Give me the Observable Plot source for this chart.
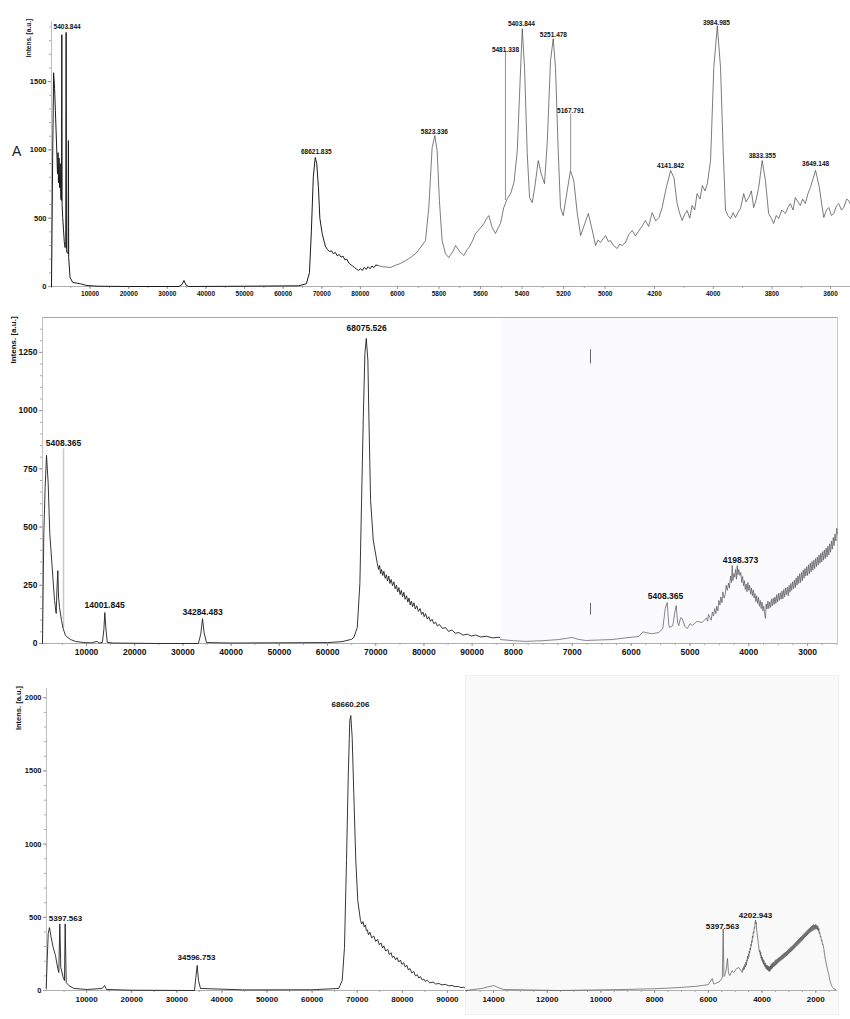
<!DOCTYPE html>
<html><head><meta charset="utf-8">
<script src="https://cdn.jsdelivr.net/npm/d3@7"></script>
<script src="https://cdn.jsdelivr.net/npm/@observablehq/plot@0.6"></script>
<style>
body{margin:0;background:#fff;width:850px;height:1019px;position:relative;overflow:hidden;font-family:"Liberation Sans",Arial,Helvetica,sans-serif;}
.ylab{position:absolute;white-space:nowrap;transform:translate(-50%,-50%) rotate(-90deg);color:#111;font-weight:bold;}
</style></head><body>
<div style="position:absolute;left:465px;top:675px;width:372px;height:338px;background:#f9f9f9;border:1px solid #f0f0f0;"></div>
<div style="position:absolute;left:12px;top:143px;font-size:14px;color:#222;">A</div>
<div class="ylab" style="left:28px;top:38px;font-size:6.5px;">Intens. [a.u.]</div>
<div class="ylab" style="left:13px;top:340px;font-size:8px;">Intens. [a.u.]</div>
<div class="ylab" style="left:18px;top:708px;font-size:7.5px;">Intens. [a.u.]</div>
<script>
// ---------- Panel A ----------
const aSeg1 = [[0,0],[100,300],[300,950],[550,1565],[800,1450],[1000,1290],[1300,1050],[1550,826],[1700,980],[1800,760],[1950,940],[2100,724],[2250,900],[2400,640],[2600,630],[2670,1843],[2740,600],[2900,505],[3100,420],[3300,330],[3500,285],[3700,300],[3785,1860],[3870,270],[4000,250],[4300,240],[4380,1068],[4450,212],[4600,150],[4800,66],[5500,30],[7500,20],[9200,7],[12000,2],[20000,0],[33000,0],[33800,15],[34300,44],[34800,12],[35500,0],[50000,2],[64000,5],[66000,20],[66800,100],[67300,400],[67800,800],[68300,945],[68700,900],[69130,724],[69500,500],[70100,387],[70600,330],[71000,290],[71500,270],[72000,255],[72500,262],[73000,240],[73500,250],[74000,225],[74500,235],[75000,215],[75500,222],[76000,195],[76500,200],[77000,172],[77500,160],[78000,150],[78500,138],[79000,128],[79500,117],[80000,130],[80500,118],[81000,140],[81500,125],[82000,145],[82500,130],[83000,150],[83500,138],[84000,158],[84430,154]];
const aSeg2 = [[6096,154],[6070,145],[6034,139],[6010,155],[5986,168],[5960,190],[5937,212],[5910,245],[5889,285],[5865,336],[5849,578],[5833,1017],[5820,1105],[5809,995],[5798,629],[5785,336],[5769,241],[5753,212],[5740,240],[5730,265],[5720,300],[5700,255],[5680,227],[5665,270],[5656,285],[5640,330],[5624,388],[5605,420],[5584,461],[5570,500],[5560,519],[5544,432],[5528,388],[5515,430],[5504,461],[5488,578],[5471,644],[5455,680],[5439,761],[5423,995],[5410,1485],[5399,1887],[5388,1602],[5375,973],[5364,651],[5351,614],[5339,724],[5322,922],[5308,827],[5292,753],[5279,1046],[5263,1653],[5250,1814],[5239,1602],[5226,995],[5215,578],[5202,519],[5188,651],[5167,849],[5151,775],[5134,534],[5118,373],[5098,461],[5081,534],[5065,432],[5046,300],[5035,340],[5022,322],[5010,350],[4998,373],[4985,330],[4974,336],[4960,300],[4942,278],[4930,310],[4918,300],[4902,322]];
const aSeg3 = [[4299,322],[4288,380],[4276,410],[4265,370],[4253,410],[4240,450],[4231,483],[4220,440],[4208,541],[4196,480],[4185,505],[4174,578],[4160,724],[4145,849],[4134,797],[4123,607],[4115,540],[4106,483],[4097,530],[4089,556],[4080,500],[4072,593],[4063,560],[4055,680],[4045,640],[4037,739],[4028,700],[4020,753],[4009,922],[3998,1602],[3986,1909],[3975,1602],[3966,995],[3958,556],[3950,520],[3941,497],[3932,540],[3924,505],[3915,545],[3907,571],[3896,680],[3888,620],[3879,651],[3870,700],[3862,578],[3853,640],[3845,724],[3833,922],[3822,775],[3811,534],[3802,500],[3794,461],[3785,520],[3777,497],[3766,560],[3754,534],[3745,580],[3737,607],[3728,560],[3720,651],[3711,620],[3703,593],[3695,640],[3686,607],[3677,680],[3669,724],[3651,849],[3638,724],[3630,600],[3623,505],[3614,560],[3606,578],[3597,520],[3589,534],[3580,590],[3572,607],[3563,560],[3555,578],[3545,640],[3538,629],[3532,600]];
const aLabels1 = [[4045,1902,"5403.844"],[68590,987,"68621.835"]];
const aLabels2 = [[5822,1134,"5823.336"],[5480,1734,"5481.338"],[5403,1924,"5403.844"],[5249,1843,"5251.478"],[5166,1287,"5167.791"]];
const aLabels3 = [[4145,885,"4141.842"],[3989,1931,"3984.985"],[3833,958,"3833.355"],[3651,900,"3649.148"]];
const aMarkers2 = [[5480,629,1712],[5166,849,1262]];
const aTicks1 = [10000,20000,30000,40000,50000,60000,70000,80000];
const aTicks2 = [6000,5800,5600,5400,5200,5000];
const aTicks3 = [4200,4000,3800,3600];
const aYTicks = [0,500,1000,1500];

// ---------- Panel B ----------
const bSeg1 = [[870,0],[1140,472],[1420,670],[1700,808],[2050,687],[2380,472],[2880,326],[3360,185],[3710,129],[3880,240],[4050,313],[4200,200],[4400,155],[4810,99],[5160,64],[5640,34],[6680,17],[7720,9],[9450,4],[11000,3],[12200,9],[12600,2],[13300,5],[13600,60],[13800,133],[14000,70],[14300,5],[15500,2],[25000,0],[33200,0],[33700,40],[34070,107],[34400,45],[34900,4],[40000,2],[50000,3],[60000,4],[63000,8],[65000,18],[65460,26],[66170,69],[66710,258],[67060,614],[67420,971],[67750,1246],[68040,1310],[68370,1216],[68580,971],[68930,614],[69490,442],[70320,344],[70600,318],[70800,335],[71000,300],[71200,318],[71450,292],[71690,310],[71950,280],[72200,295],[72450,268],[72700,290],[72950,258],[73200,275],[73480,248],[73760,265],[74030,235],[74300,250],[74550,222],[74800,240],[75050,210],[75300,228],[75570,200],[75840,220],[76100,190],[76400,205],[76650,178],[76900,195],[77150,165],[77400,182],[77650,158],[77920,175],[78200,148],[78500,162],[78850,138],[79200,150],[79500,125],[79800,135],[80050,115],[80340,128],[80700,105],[81000,115],[81350,95],[81700,104],[82050,85],[82420,92],[82800,75],[83200,82],[83800,65],[84490,68],[85100,52],[85800,58],[86500,44],[87250,47],[88100,36],[89000,40],[89800,32],[90710,36],[91800,28],[93000,31],[94200,24],[95550,27],[95880,24]];
const bSeg2 = [[8221,17],[8000,12],[7796,9],[7500,12],[7230,17],[7100,22],[7002,26],[6900,18],[6776,13],[6550,15],[6322,17],[6100,24],[5870,30],[5800,50],[5756,47],[5650,42],[5530,47],[5462,64],[5420,150],[5387,176],[5360,80],[5348,69],[5292,77],[5260,130],[5234,163],[5210,90],[5190,77],[5160,110],[5132,107],[5090,75],[5047,64],[5000,85],[4962,77],[4880,95],[4792,90],[4720,110],[4700,96],[4685,125],[4660,112],[4640,100],[4620,135],[4600,118],[4580,150],[4560,128],[4545,160],[4525,140],[4510,185],[4490,165],[4475,200],[4455,175],[4440,222],[4420,195],[4400,210],[4385,250],[4365,228],[4345,260],[4330,238],[4310,290],[4295,262],[4282,335],[4270,270],[4255,300],[4240,285],[4225,318],[4210,276],[4197,335],[4185,295],[4170,318],[4150,292],[4135,305],[4120,262],[4105,288],[4090,248],[4075,270],[4060,232],[4045,255],[4030,222],[4015,262],[4000,228],[3985,250],[3970,212],[3955,238],[3940,205],[3925,230],[3910,195],[3895,215],[3880,180],[3865,205],[3850,172],[3835,198],[3820,160],[3805,185],[3790,150],[3775,178],[3760,140],[3745,160],[3730,125],[3716,108],[3705,170],[3690,148],[3675,182],[3660,150],[3645,178],[3630,155],[3615,190],[3600,162],[3585,195],[3570,168],[3555,200],[3540,172],[3525,210],[3510,178],[3495,215],[3480,185],[3465,218],[3450,190],[3435,225],[3420,192],[3405,232],[3390,200],[3375,238],[3360,210],[3345,242],[3330,205],[3315,250],[3300,220],[3285,258],[3270,228],[3255,265],[3240,235],[3225,272],[3210,240],[3195,282],[3180,250],[3165,290],[3150,258],[3135,300],[3120,262],[3105,305],[3090,270],[3075,315],[3060,280],[3045,322],[3030,290],[3015,330],[3000,292],[2985,338],[2970,300],[2955,345],[2940,308],[2925,352],[2910,315],[2895,358],[2880,322],[2865,365],[2850,330],[2835,372],[2820,338],[2805,380],[2790,345],[2775,388],[2760,350],[2745,395],[2730,358],[2715,402],[2700,365],[2685,410],[2670,372],[2655,418],[2640,380],[2625,428],[2610,392],[2595,440],[2580,405],[2565,455],[2550,420],[2535,470],[2520,440],[2505,495],[2495,470]];
const bLabels1 = [[5230,859,"5408.365"],[13740,163,"14001.845"],[34070,133,"34284.483"],[68100,1353,"68075.526"]];
const bLabels2 = [[5416,202,"5408.365"],[4141,357,"4198.373"]];
const bMarkers1 = [[5230,64,836]];
const bMarkers2 = [[6691,1200,1262],[6691,122,172]];
const bTicks1 = [10000,20000,30000,40000,50000,60000,70000,80000,90000];
const bTicks2 = [8000,7000,6000,5000,4000,3000];
const bYTicks = [0,250,500,750,1000,1250];

// ---------- Panel C ----------
const cSeg1 = [[1040,14],[1260,205],[1490,389],[1770,430],[2150,362],[2590,294],[3100,239],[3610,150],[3840,123],[4060,455],[4280,157],[4810,89],[5100,68],[5250,455],[5480,55],[6050,34],[7160,14],[10130,7],[13460,14],[13970,34],[14410,7],[20000,2],[33920,0],[34210,89],[34520,171],[34810,68],[35250,14],[45000,4],[60000,5],[65910,14],[66670,68],[67170,294],[67620,888],[68000,1455],[68350,1844],[68570,1878],[68880,1728],[69240,1345],[69680,888],[70120,615],[70720,478],[71000,455],[71300,470],[71550,435],[71830,448],[72000,410],[72210,415],[72500,380],[72800,398],[73200,360],[73670,372],[74100,335],[74500,350],[74900,312],[75300,325],[75600,290],[75890,305],[76300,270],[76800,280],[77100,245],[77500,258],[77800,225],[78100,235],[78500,210],[78800,225],[79200,195],[79590,208],[79900,178],[80300,190],[80650,160],[81000,172],[81350,140],[81700,150],[82100,120],[82540,130],[82900,100],[83300,108],[83650,85],[84000,95],[84400,72],[84760,78],[85100,62],[85500,70],[86100,52],[86800,58],[87400,44],[88080,48],[88800,38],[89500,42],[90300,32],[91050,35],[91700,26],[92400,28],[93000,20],[93620,22],[93780,19]];
const cSeg2 = [[15043,0],[14421,14],[14200,25],[13989,34],[13800,18],[13616,7],[11568,0],[9084,7],[8000,12],[7099,20],[6500,28],[6228,34],[6000,40],[5856,82],[5800,45],[5733,48],[5600,60],[5547,68],[5480,90],[5446,420],[5420,95],[5387,102],[5330,150],[5286,219],[5250,120],[5200,102],[5120,135],[5051,123],[4950,150],[4865,157],[4800,140],[4738,123],[4720,150],[4700,138],[4680,165],[4660,145],[4640,178],[4620,160],[4600,195],[4580,172],[4565,210],[4552,200],[4535,235],[4520,215],[4505,250],[4490,232],[4475,270],[4460,255],[4445,290],[4429,278],[4415,315],[4400,305],[4385,340],[4370,330],[4355,372],[4340,360],[4325,400],[4306,392],[4290,430],[4275,425],[4260,462],[4243,482],[4230,455],[4215,465],[4200,410],[4185,398],[4170,365],[4155,350],[4140,320],[4125,305],[4110,280],[4095,262],[4080,275],[4065,240],[4050,262],[4035,220],[4020,240],[4005,205],[3990,228],[3975,192],[3960,212],[3945,180],[3930,205],[3915,170],[3900,190],[3885,160],[3870,185],[3855,150],[3840,175],[3825,145],[3810,172],[3795,140],[3780,168],[3765,135],[3750,165],[3735,130],[3720,162],[3705,132],[3690,170],[3675,140],[3660,178],[3645,148],[3630,185],[3615,152],[3600,190],[3580,160],[3560,195],[3540,165],[3520,205],[3500,172],[3480,210],[3460,178],[3440,215],[3420,185],[3400,222],[3380,192],[3360,228],[3340,198],[3320,232],[3300,205],[3280,240],[3260,210],[3240,245],[3220,215],[3200,252],[3180,222],[3160,258],[3140,228],[3120,262],[3100,235],[3080,270],[3060,240],[3040,278],[3020,248],[3000,285],[2980,255],[2960,292],[2940,262],[2920,298],[2900,268],[2880,305],[2860,275],[2840,312],[2820,282],[2800,320],[2780,290],[2760,328],[2740,298],[2720,335],[2700,305],[2680,342],[2660,312],[2640,350],[2620,320],[2600,358],[2580,328],[2560,365],[2540,335],[2520,372],[2500,342],[2480,380],[2460,350],[2440,388],[2420,358],[2400,395],[2380,365],[2360,402],[2340,372],[2320,410],[2300,380],[2280,418],[2260,388],[2240,425],[2220,395],[2200,432],[2180,400],[2160,438],[2140,405],[2120,445],[2100,410],[2080,450],[2060,415],[2040,448],[2020,418],[2000,452],[1980,420],[1960,445],[1940,415],[1920,440],[1900,405],[1886,425],[1870,390],[1850,398],[1830,365],[1810,370],[1790,340],[1770,345],[1750,315],[1730,318],[1700,285],[1680,260],[1660,235],[1640,210],[1620,195],[1600,175],[1580,160],[1560,140],[1540,125],[1513,108],[1490,85],[1470,68],[1440,50],[1420,38],[1390,28],[1370,20],[1327,12],[1250,5]];
const cLabels1 = [[5320,492,"5397.563"],[34360,225,"34596.753"],[68500,1953,"68660.206"]];
const cLabels2 = [[5472,437,"5397.563"],[4243,512,"4202.943"]];
const cTicks1 = [10000,20000,30000,40000,50000,60000,70000,80000,90000];
const cTicks2 = [14000,12000,10000,8000,6000,4000,2000];
const cYTicks = [0,500,1000,1500,2000];

const FONT = '"Liberation Sans", Arial, Helvetica, sans-serif';

function seg(o) {
  const marks = [];
  if (o.bg) marks.push(Plot.frame({fill: o.bg, stroke: "none"}));
  if (o.frameTop) marks.push(Plot.ruleY([o.yDomain[1]], {stroke: "#a8a8a8", strokeWidth: 1}));
  if (o.frameRight) marks.push(Plot.ruleX([o.xDomain[1]], {stroke: "#c8c8c8", strokeWidth: 1}));
  marks.push(Plot.ruleY([o.yDomain[0]], {stroke: "#9a9a9a", strokeWidth: 0.8}));
  if (o.yTicks) {
    marks.push(Plot.ruleX([o.xDomain[0]], {stroke: "#b0b0b0", strokeWidth: 0.8}));
    marks.push(Plot.axisY(o.yMinor, {tickSize: 2, tickFormat: () => "", stroke: "#aaa", label: null}));
    marks.push(Plot.axisY(o.yTicks, {tickSize: 3, tickPadding: 2, tickFormat: d => String(d), stroke: "#999", fill: "#111", fontSize: o.yFont, fontWeight: "bold", label: null}));
  }
  if (o.xMinor) marks.push(Plot.axisX(o.xMinor, {tickSize: 2, tickFormat: () => "", stroke: "#aaa", label: null}));
  marks.push(Plot.axisX(o.xTicks, {tickSize: 3, tickPadding: o.tickPad || 2, tickFormat: d => String(d), stroke: "#999", fill: "#111", fontSize: o.xFont, fontWeight: "bold", label: null}));
  if (o.markers) marks.push(Plot.ruleX(o.markers, {x: d => d[0], y1: d => d[1], y2: d => d[2], stroke: o.markerColor || "#777", strokeWidth: o.markerWidth || 0.8}));
  marks.push(Plot.line(o.data, {x: d => d[0], y: d => d[1], stroke: o.stroke, strokeWidth: o.sw, strokeLinejoin: "round"}));
  if (o.labels) marks.push(Plot.text(o.labels, {x: d => d[0], y: d => d[1], text: d => d[2], fontSize: o.lblFont, fontWeight: "bold", fill: "#111"}));
  const svg = Plot.plot({
    width: o.width, height: o.height,
    marginLeft: o.ml || 0, marginRight: o.mr || 0, marginTop: o.mt, marginBottom: o.mb,
    x: {domain: o.xDomain},
    y: o.yTicks ? {domain: o.yDomain} : {domain: o.yDomain, axis: null},
    style: {background: "transparent", overflow: "visible", fontFamily: FONT, color: "#111"},
    marks
  });
  svg.style.position = "absolute";
  svg.style.left = o.left + "px";
  svg.style.top = o.top + "px";
  svg.style.maxWidth = "none";
  document.body.appendChild(svg);
}

// Panel A
const A = {top: 0, height: 300, mt: 21, mb: 14, yDomain: [0, 1940], xFont: 6.5, lblFont: 6.5};
seg({...A, left: 0, width: 377, ml: 51, xDomain: [0, 84430], data: aSeg1, stroke: "#1a1a1a", sw: 1,
  xTicks: aTicks1, xMinor: d3.range(0, 84001, 5000), yTicks: aYTicks, yMinor: d3.range(0, 1901, 100), yFont: 7.5, labels: aLabels1});
seg({...A, left: 377, width: 248, xDomain: [6096, 4902], data: aSeg2, stroke: "#444", sw: 0.7,
  xTicks: aTicks2, xMinor: d3.range(5100, 6001, 200), labels: aLabels2, markers: aMarkers2});
seg({...A, left: 625, width: 225, xDomain: [4299, 3532], data: aSeg3, stroke: "#444", sw: 0.7,
  xTicks: aTicks3, xMinor: d3.range(3700, 4200, 200), labels: aLabels3});

// Panel B
const B = {top: 300, height: 360, mt: 17, mb: 17, yDomain: [0, 1400], xFont: 8.5, lblFont: 8.5, frameTop: true};
seg({...B, left: 0, width: 500, ml: 42, xDomain: [870, 95880], data: bSeg1, stroke: "#1f1f1f", sw: 0.9,
  xTicks: bTicks1, xMinor: d3.range(5000, 95001, 5000), yTicks: bYTicks, yMinor: d3.range(0, 1351, 50), yFont: 8.5,
  labels: bLabels1, markers: bMarkers1, markerColor: "#c8c8c8", markerWidth: 1.5});
seg({...B, left: 500, width: 337, xDomain: [8221, 2492], data: bSeg2, stroke: "#555", sw: 0.7, bg: "#fbfbfd", frameRight: true,
  xTicks: bTicks2, xMinor: d3.range(2500, 8001, 250), labels: bLabels2, markers: bMarkers2, markerColor: "#666", markerWidth: 1});

// Panel C
const C = {top: 660, height: 359, mt: 28, mb: 29, yDomain: [0, 2063], xFont: 8, lblFont: 8, tickPad: 3};
seg({...C, left: 0, width: 464, ml: 46, xDomain: [1110, 93780], data: cSeg1, stroke: "#1f1f1f", sw: 0.9,
  xTicks: cTicks1, xMinor: d3.range(5000, 90001, 5000), yTicks: cYTicks, yMinor: d3.range(0, 2001, 100), yFont: 7.5, labels: cLabels1});
seg({...C, left: 465, width: 372, xDomain: [15043, 1190], data: cSeg2, stroke: "#555", sw: 0.7,
  xTicks: cTicks2, xMinor: d3.range(1500, 15001, 500), labels: cLabels2});
</script>
</body></html>
